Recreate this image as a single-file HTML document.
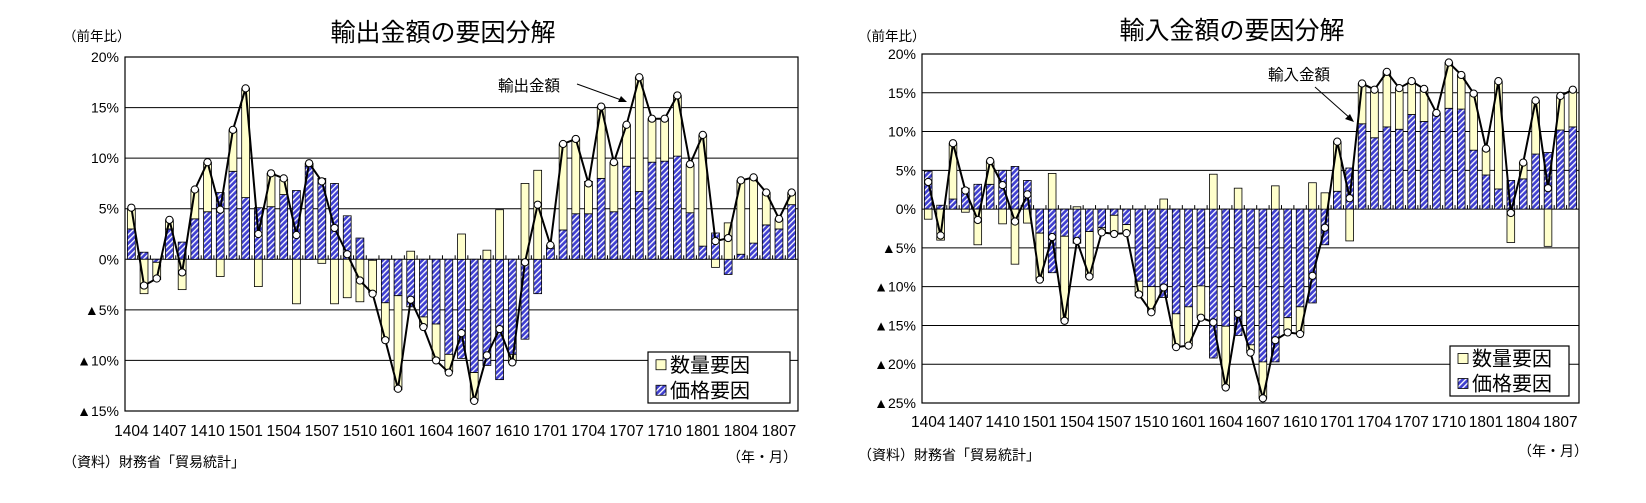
<!DOCTYPE html>
<html><head><meta charset="utf-8">
<style>
body{margin:0;background:#fff;width:1646px;height:503px;overflow:hidden}
svg{position:absolute;left:0;top:0}
text{font-family:"Liberation Sans","Noto Sans CJK JP",sans-serif;fill:#000}
</style></head>
<body>
<svg id="chart" width="1646" height="503">
<defs>
<pattern id="hatch" width="4" height="4" patternUnits="userSpaceOnUse" patternTransform="rotate(45)">
<rect width="4" height="4" fill="#4040d0"/><rect width="1.3" height="4" fill="#ffffff"/>
</pattern>
</defs>
</svg>
<script>
const months = ["1404","1405","1406","1407","1408","1409","1410","1411","1412","1501","1502","1503","1504","1505","1506","1507","1508","1509","1510","1511","1512","1601","1602","1603","1604","1605","1606","1607","1608","1609","1610","1611","1612","1701","1702","1703","1704","1705","1706","1707","1708","1709","1710","1711","1712","1801","1802","1803","1804","1805","1806","1807","1808"];
const tickMonths = ["1404","1407","1410","1501","1504","1507","1510","1601","1604","1607","1610","1701","1704","1707","1710","1801","1804","1807"];
const exPrice = [3.0,0.7,-0.3,3.0,1.7,4.0,4.7,6.6,8.7,6.1,5.1,5.2,6.4,6.8,9.2,8.0,7.5,4.3,2.1,-0.1,-4.3,-3.6,-4.7,-5.7,-6.4,-9.4,-9.8,-11.2,-10.5,-11.9,-9.4,-7.9,-3.4,1.1,2.9,4.5,4.5,8.0,4.7,9.2,6.7,9.6,9.7,10.2,4.6,1.3,2.6,-1.5,0.5,1.6,3.4,3.0,5.4];
const exQty = [2.0,-3.4,-1.7,0.9,-3.0,2.9,4.9,-1.7,4.1,10.8,-2.7,3.3,1.5,-4.4,0.3,-0.4,-4.4,-3.8,-4.2,-3.2,-3.7,-9.3,0.8,-1.0,-3.5,-1.7,2.5,-2.8,0.9,4.9,-0.8,7.5,8.8,0.3,8.5,7.4,3.2,7.1,4.9,4.1,11.3,4.3,4.2,6.0,4.8,11.0,-0.8,3.6,7.3,6.5,3.2,1.0,1.2];
const exTotal = [5.1,-2.6,-1.9,3.9,-1.3,6.9,9.6,4.9,12.8,16.9,2.5,8.5,8.0,2.4,9.5,7.7,3.1,0.5,-2.1,-3.4,-8.0,-12.8,-4.0,-6.7,-10.0,-11.2,-7.3,-14.0,-9.5,-6.9,-10.2,-0.3,5.4,1.4,11.4,11.9,7.5,15.1,9.6,13.3,18.0,13.9,13.9,16.2,9.4,12.3,1.8,2.1,7.8,8.1,6.6,4.0,6.6];
const imPrice = [4.9,0.5,1.3,2.7,3.2,3.2,5.0,5.5,3.7,-3.1,-8.2,-3.5,-4.4,-2.9,-2.4,-0.8,-2.0,-9.3,-10.0,-11.4,-13.5,-12.6,-9.9,-19.2,-15.1,-16.3,-17.5,-19.7,-19.7,-14.0,-12.6,-12.1,-4.6,2.3,5.3,11.0,9.2,10.6,10.3,12.2,11.3,12.3,13.0,12.9,7.6,4.4,2.6,3.7,3.9,7.1,7.3,10.2,10.6];
const imQty = [-1.3,-4.0,7.2,-0.4,-4.6,3.0,-1.9,-7.1,-1.8,-6.1,4.6,-10.9,0.3,-5.9,-0.6,-2.4,-1.1,-1.9,-3.3,1.3,-4.3,-5.0,-4.1,4.5,-7.9,2.7,-1.0,-4.7,3.0,-1.9,-3.4,3.4,2.1,6.4,-4.1,5.2,6.2,7.1,5.3,4.3,4.2,0.1,5.9,4.4,7.3,3.4,13.9,-4.3,2.1,6.9,-4.8,4.4,4.8];
const imTotal = [3.5,-3.4,8.5,2.4,-1.4,6.2,3.1,-1.6,1.9,-9.1,-3.6,-14.4,-4.1,-8.7,-3.0,-3.2,-3.1,-11.0,-13.3,-10.1,-17.8,-17.6,-14.0,-14.6,-23.0,-13.5,-18.5,-24.4,-16.9,-15.9,-16.1,-8.6,-2.4,8.7,1.4,16.2,15.4,17.7,15.6,16.5,15.5,12.4,18.9,17.3,14.9,7.8,16.5,-0.5,6.0,14.0,2.7,14.6,15.4];
const exTicks = [20,15,10,5,0,-5,-10,-15];
const imTicks = [20,15,10,5,0,-5,-10,-15,-20,-25];

const NS="http://www.w3.org/2000/svg";
const svg=document.getElementById('chart');
function mk(tag,attrs,parent){const e=document.createElementNS(NS,tag);for(const k in attrs)e.setAttribute(k,attrs[k]);(parent||svg).appendChild(e);return e;}
function tickLabel(v){return v<0?'▲'+(-v)+'%':v+'%';}

function drawChart(cfg){
  const g=mk('g',{});
  
  
  const {x0,x1,yTop,yBot,vMax,vMin}=cfg;
  const y=v=>yTop+(vMax-v)/(vMax-vMin)*(yBot-yTop);
  const slot=(x1-x0)/months.length;
  const xc=i=>x0+slot*(i+0.5);
  cfg.ticks.forEach(t=>{
    const l=mk('line',{x1:x0,x2:x1,y1:y(t),y2:y(t),stroke:'#000','stroke-width':1},g);
    
    
    const tx=mk('text',{x:x0-6,y:y(t)+5,'text-anchor':'end','font-size':14},g);
    tx.textContent=tickLabel(t);
    
    
  });
  months.forEach((m,i)=>{
    const tx=x0+slot*i;
    if(i>0){const t=mk('line',{x1:tx,x2:tx,y1:y(0)-4,y2:y(0),stroke:'#000','stroke-width':1},g);
      
      }
  });
  tickMonths.forEach(m=>{
    const i=months.indexOf(m);
    const t=mk('text',{x:xc(i),y:cfg.labelY,'text-anchor':'middle','font-size':15.5},g);
    t.textContent=m;
    
    
  });
  const bw=slot*0.62;
  months.forEach((m,i)=>{
    let pos=0,neg=0;
    [[cfg.price[i],'url(#hatch)','bar-price'],[cfg.qty[i],'#ffffcc','bar-quantity']].forEach(([v,fill,nm])=>{
      let a,b;
      if(v>=0){a=pos;b=pos+v;pos=b;}else{a=neg;b=neg+v;neg=b;}
      const r=mk('rect',{x:xc(i)-bw/2,width:bw,y:Math.min(y(a),y(b)),height:Math.abs(y(a)-y(b)),fill:fill,stroke:'#000','stroke-width':0.8},g);
      
      
    });
  });
  const pts=cfg.total.map((v,i)=>xc(i)+','+y(v)).join(' ');
  const pl=mk('polyline',{points:pts,fill:'none',stroke:'#000','stroke-width':2},g);
  
  
  cfg.total.forEach((v,i)=>{
    const c=mk('circle',{cx:xc(i),cy:y(v),r:3.6,fill:'#fff',stroke:'#000','stroke-width':1},g);
    
    
  });
  const fr=mk('rect',{x:x0,y:yTop,width:x1-x0,height:yBot-yTop,fill:'none',stroke:'#000','stroke-width':1.2},g);
  
  
  const L=cfg.legend;
  const lb=mk('rect',{x:L.x,y:L.y,width:L.w,height:L.h,fill:'#fff',stroke:'#000','stroke-width':1.2},g);
  
  
  [['#ffffcc','数量要因','legend-quantity'],['url(#hatch)','価格要因','legend-price']].forEach(([f,t,nm],k)=>{
    const yy=L.y+L.h*(k*2+1)/4;
    const s=mk('rect',{x:L.x+8,y:yy-5,width:10,height:10,fill:f,stroke:'#000','stroke-width':0.8},g);
    
    
    const tt=mk('text',{x:L.x+22,y:yy+7,'font-size':20},g);
    tt.textContent=t;
    
    
  });
}
drawChart({name:'export-chart',x0:125,x1:798,yTop:57,yBot:411,vMax:20,vMin:-15,ticks:exTicks,labelY:436,price:exPrice,qty:exQty,total:exTotal,legend:{x:648,y:352,w:142,h:51}});
drawChart({name:'import-chart',x0:922,x1:1579,yTop:54,yBot:403,vMax:20,vMin:-25,ticks:imTicks,labelY:427,price:imPrice,qty:imQty,total:imTotal,legend:{x:1450,y:346,w:119,h:50}});
</script>
<svg width="1646" height="503" style="pointer-events:none">
<text x="443" y="41" font-size="25" text-anchor="middle">輸出金額の要因分解</text>
<text x="1232" y="39" font-size="25" text-anchor="middle">輸入金額の要因分解</text>
<text x="63" y="41" font-size="13.5">（前年比）</text>
<text x="858" y="41" font-size="13.5">（前年比）</text>
<text x="498" y="91" font-size="15.5">輸出金額</text>
<line x1="577" y1="84" x2="624" y2="101" stroke="#000" stroke-width="1"/>
<polygon points="627,102 618,102 621,96" fill="#000"/>
<text x="1268" y="80" font-size="15.5">輸入金額</text>
<line x1="1315" y1="87" x2="1351" y2="119" stroke="#000" stroke-width="1"/>
<polygon points="1354,122 1345,119 1350,114" fill="#000"/>
<text x="63" y="467" font-size="14">（資料）財務省「貿易統計」</text>
<text x="858" y="460" font-size="14">（資料）財務省「貿易統計」</text>
<text x="797" y="462" font-size="14" text-anchor="end">（年・月）</text>
<text x="1588" y="456" font-size="14" text-anchor="end">（年・月）</text>
</svg>
</body></html>
